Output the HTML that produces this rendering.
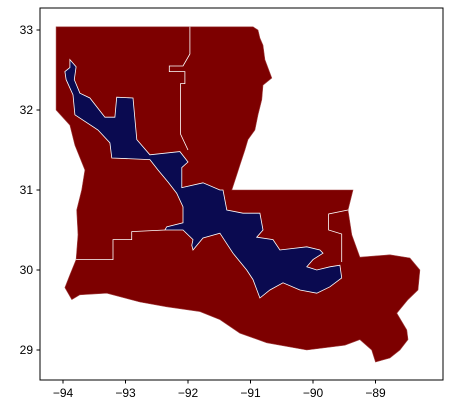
<!DOCTYPE html>
<html><head><meta charset="utf-8"><style>
body{margin:0;background:#fff;width:449px;height:413px;overflow:hidden}
svg text{font-family:"Liberation Sans",sans-serif;font-size:12px;fill:#000}
</style></head><body>
<svg id="chart" width="449" height="413" xmlns="http://www.w3.org/2000/svg">
<rect x="40" y="8" width="403" height="372" fill="#fff" stroke="#000" stroke-width="1"/>
<g id="shapes"></g>
<g id="axes"></g>
</svg>
<script>
const xTicks=[-94,-93,-92,-91,-90,-89];
const yTicks=[33,32,31,30,29];
// state outline in [lon, lat]
const stateLon=[-94.11,-90.96,-90.88,-90.85,-90.8,-90.77,-90.66,-90.8,-90.82,-90.88,-90.93,-91.04,-91.09,-91.17,-91.22,-91.3,-89.36,-89.44,-89.38,-89.25,-88.77,-88.45,-88.29,-88.32,-88.48,-88.66,-88.5,-88.48,-88.61,-88.77,-89.0,-89.06,-89.25,-89.49,-90.1,-90.74,-91.17,-91.49,-91.81,-92.34,-92.77,-93.3,-93.73,-93.86,-93.97,-93.89,-93.79,-93.76,-93.78,-93.7,-93.65,-93.81,-93.89,-94.11];
const stateLat=[33.04,33.04,33.0,32.9,32.81,32.63,32.4,32.31,32.13,31.94,31.75,31.63,31.5,31.31,31.19,31.0,31.0,30.75,30.44,30.16,30.19,30.15,30.0,29.75,29.63,29.46,29.25,29.13,29.0,28.9,28.85,29.0,29.13,29.06,29.0,29.09,29.21,29.38,29.48,29.54,29.6,29.71,29.69,29.63,29.78,29.94,30.13,30.44,30.75,31.0,31.25,31.56,31.81,32.0];
// district outline in [lon, lat]
const distLon=[-93.89,-93.79,-93.82,-93.73,-93.57,-93.33,-93.17,-93.14,-92.88,-92.82,-92.61,-92.13,-92.0,-92.1,-92.1,-91.76,-91.49,-91.44,-91.38,-91.12,-90.85,-90.8,-90.9,-90.64,-90.53,-90.1,-89.89,-89.84,-90.0,-90.1,-89.94,-89.73,-89.57,-89.54,-89.73,-89.94,-90.21,-90.48,-90.69,-90.85,-90.96,-91.06,-91.28,-91.49,-91.76,-91.92,-91.94,-91.92,-92.08,-92.37,-92.34,-92.08,-92.08,-92.18,-92.32,-92.48,-92.61,-93.22,-93.25,-93.44,-93.81,-93.84,-93.95,-93.97,-93.89];
const distLat=[32.63,32.54,32.38,32.21,32.15,31.91,31.91,32.16,32.15,31.63,31.44,31.48,31.35,31.28,31.03,31.09,31.0,31.0,30.75,30.71,30.71,30.5,30.41,30.38,30.25,30.29,30.25,30.21,30.13,30.04,30.0,30.04,30.06,29.9,29.79,29.71,29.75,29.84,29.75,29.65,29.88,30.0,30.21,30.46,30.4,30.25,30.31,30.38,30.5,30.5,30.54,30.59,30.79,30.96,31.1,31.25,31.38,31.4,31.59,31.75,31.94,32.19,32.38,32.48,32.53];
// internal district boundary lines in [lon, lat]
const line1Lon=[-91.97,-91.97,-92.08,-92.3,-92.3,-92.05,-92.05,-92.12,-92.12,-92.0],
      line1Lat=[33.04,32.7,32.55,32.55,32.48,32.48,32.33,32.33,31.7,31.5];
const line2Lon=[-93.79,-93.2,-93.2,-92.9,-92.9,-92.37],
      line2Lat=[30.13,30.13,30.38,30.38,30.48,30.5];
const line3Lon=[-89.54,-89.54,-89.75,-89.75,-89.44],
      line3Lat=[30.1,30.45,30.5,30.7,30.75];
const X0=63,XS=62.5,Y0=30,YS=80;
const xScale=v=>X0+(v+94)*XS, yScale=v=>Y0+(33-v)*YS;
const NS="http://www.w3.org/2000/svg";
function pts(lo,la){return lo.map((v,i)=>xScale(v).toFixed(1)+","+yScale(la[i]).toFixed(1)).join(" ");}
const g=document.getElementById("shapes");
const s=document.createElementNS(NS,"polygon");
s.setAttribute("points",pts(stateLon,stateLat));s.setAttribute("fill","#7d0000");s.setAttribute("stroke","#a04040");s.setAttribute("stroke-width","0.6");


g.appendChild(s);
[[line1Lon,line1Lat],[line2Lon,line2Lat],[line3Lon,line3Lat]].forEach(p=>{
 const l=document.createElementNS(NS,"polyline");
 l.setAttribute("points",pts(p[0],p[1]));l.setAttribute("fill","none");l.setAttribute("stroke","#fff");l.setAttribute("stroke-width","0.8");
 
 
 g.appendChild(l);});
const d=document.createElementNS(NS,"polygon");
d.setAttribute("points",pts(distLon,distLat));d.setAttribute("fill","#0a0a50");d.setAttribute("stroke","#fff");d.setAttribute("stroke-width","0.8");


g.appendChild(d);
const a=document.getElementById("axes");
xTicks.forEach(t=>{const x=xScale(t);
 const l=document.createElementNS(NS,"line");l.setAttribute("x1",x);l.setAttribute("x2",x);l.setAttribute("y1",380);l.setAttribute("y2",383.5);l.setAttribute("stroke","#000");
 
 
 a.appendChild(l);
 const tx=document.createElementNS(NS,"text");tx.setAttribute("x",x);tx.setAttribute("y",397);tx.setAttribute("text-anchor","middle");tx.textContent="\u2212"+Math.abs(t);
 
 
 a.appendChild(tx);});
yTicks.forEach(t=>{const y=yScale(t);
 const l=document.createElementNS(NS,"line");l.setAttribute("x1",36.5);l.setAttribute("x2",40);l.setAttribute("y1",y);l.setAttribute("y2",y);l.setAttribute("stroke","#000");
 
 
 a.appendChild(l);
 const tx=document.createElementNS(NS,"text");tx.setAttribute("x",33);tx.setAttribute("y",y+4);tx.setAttribute("text-anchor","end");tx.textContent=t;
 
 
 a.appendChild(tx);});
</script>
</body></html>
